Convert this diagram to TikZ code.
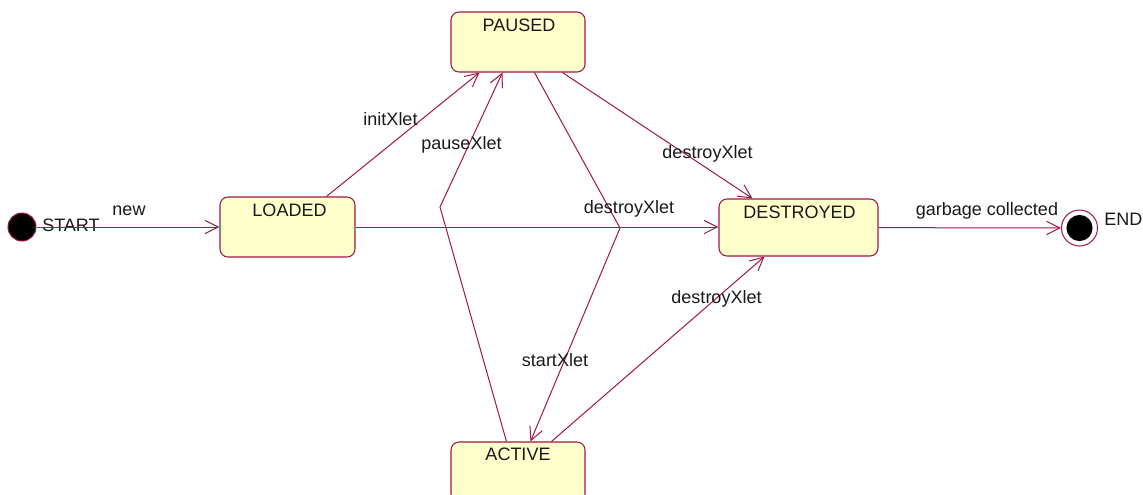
\documentclass[tikz,border=0pt]{standalone}
\usepackage{fontspec}
\setmainfont{Liberation Sans}
\usetikzlibrary{arrows.meta,calc}
\definecolor{edgecol}{RGB}{165,22,70}
\definecolor{statefill}{RGB}{255,255,204}
\begin{document}
\begin{tikzpicture}[x=0.75pt,y=-0.75pt,
  txt/.style={font=\fontsize{13.5}{16}\selectfont, inner sep=0pt, anchor=base, text=black!90},
  statebox/.style={draw=edgecol, fill=statefill, line width=0.8pt, rounded corners=6pt, inner sep=0pt},
  trans/.style={draw=edgecol, line width=0.75pt, -{Straight Barb[length=10pt,width=10pt,line width=0.75pt]}},
  pseudo/.style={circle, draw=edgecol, line width=0.75pt, inner sep=0pt}]
\clip (0,0) rectangle (1143,494);
\fill[white] (0,0) rectangle (1143,494);

% pseudo states
\node[pseudo, fill=black, minimum size=21pt] (start) at (22,227) {};
\node[pseudo, fill=white, minimum size=27pt,
  path picture={\fill[black] (path picture bounding box.center) circle (9.8pt);}] (end) at (1079.5,228) {};
\node[txt, anchor=base west] (startname) at (42,231) {START};
\node[txt, anchor=base west] (endname) at (1104,225) {END};

% states
\node[statebox, minimum width=101.25pt, minimum height=45pt] (loaded) at (287.5,227) {};
\node[statebox, minimum width=100.5pt, minimum height=45pt] (paused) at (518,42) {};
\node[statebox, minimum width=119.25pt, minimum height=42.75pt] (destroyed) at (798.5,227.5) {};
\node[statebox, minimum width=100.5pt, minimum height=45pt] (active) at (518,472) {};

\node[txt] (loadedname) at ($(loaded.north)+(2,20)$) {LOADED};
\node[txt] (pausedname) at ($(paused.north)+(1,20)$) {PAUSED};
\node[txt] (destroyedname) at ($(destroyed.north)+(1,20)$) {DESTROYED};
\node[txt] (activename) at ($(active.north)+(0,19)$) {ACTIVE};

% transitions
\draw[trans] (start) -- (loaded);
\draw[trans] ($(loaded.north west)+(107,0)$) -- ($(paused.south west)+(29,0)$);
\draw[trans] ($(active.north west)+(56,0)$) -- (440,207) -- ($(paused.south west)+(52,0)$);
\draw[trans] ($(paused.south west)+(84,0)$) -- (620,228) -- ($(active.north west)+(80,0)$);
\draw[trans] ($(paused.south west)+(112,0)$) -- ($(destroyed.north west)+(34,0)$);
\draw[trans] (loaded.east) -- (loaded.east -| destroyed.west);
\draw[trans] ($(active.north west)+(101,0)$) -- ($(destroyed.south west)+(46,0)$);
\draw[trans] (destroyed) -- (end);

% transition labels
\node[txt] (lnew) at (129,215) {new};
\node[txt] (linit) at (390.5,125) {initXlet};
\node[txt] (lpause) at (461.5,149) {pauseXlet};
\node[txt] (lstart) at (555,366) {startXlet};
\node[txt] (ldestroyp) at (707.5,158) {destroyXlet};
\node[txt] (ldestroyl) at (629,213) {destroyXlet};
\node[txt] (ldestroya) at (716.5,303) {destroyXlet};
\node[txt] (lgarbage) at (987,215) {garbage collected};
\end{tikzpicture}
\end{document}
